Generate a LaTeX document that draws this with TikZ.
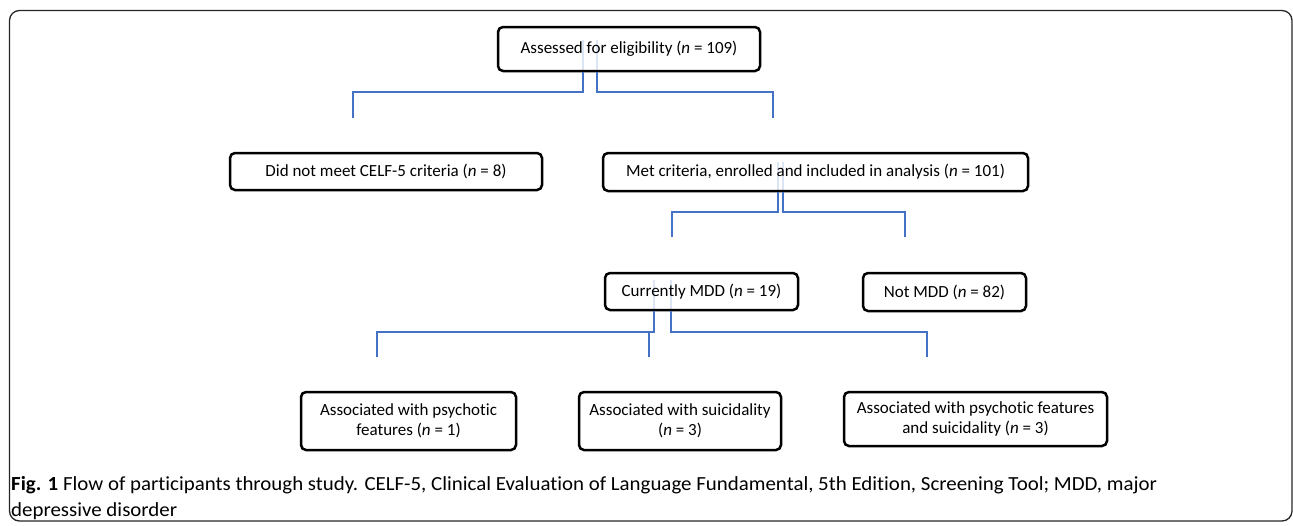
\documentclass[tikz,border=0pt]{standalone}
\usepackage{fontspec}
\setmainfont{Carlito}[RawFeature={-liga}]
\usepackage{graphicx}
\usetikzlibrary{backgrounds}
\definecolor{linkblue}{HTML}{4472C4}
\definecolor{ghostblue}{HTML}{DCE5F4}
\begin{document}
\begin{tikzpicture}[x=1pt,y=-1pt,
  box/.style={draw=black, line width=2.5pt, rounded corners=5pt, align=center, inner sep=0pt,
    font=\fontsize{17}{19.5}\selectfont},
  conn/.style={draw=linkblue, line width=1.6pt},
  ghost/.style={draw=ghostblue, line width=1.6pt},
  frame/.style={draw=black!85, line width=1.3pt, rounded corners=10pt}]
\useasboundingbox (0,0) rectangle (1293,525);
\draw[frame] (9.5,10.5) rectangle (1292,521);

% boxes
\node[box, minimum width=262pt, minimum height=44pt] (assess) at (629,49) {Assessed for eligibility (\textit{n} = 109)};
\node[box, minimum width=312pt, minimum height=37pt] (notmeet) at (386,171.5) {Did not meet CELF-5 criteria (\textit{n} = 8)};
\node[box, minimum width=425pt, minimum height=38pt] (met) at (815.5,172) {Met criteria, enrolled and included in analysis (\textit{n} = 101)};
\node[box, minimum width=193pt, minimum height=37pt] (mdd) at (701.5,291.5) {Currently MDD (\textit{n} = 19)};
\node[box, minimum width=163pt, minimum height=38pt] (notmdd) at (944.5,292) {Not MDD (\textit{n} = 82)};
\node[box, minimum width=215pt, minimum height=58pt] (psy) at (408.5,421) {Associated with psychotic\\features (\textit{n} = 1)};
\node[box, minimum width=202pt, minimum height=58pt] (sui) at (680,421) {Associated with suicidality\\(\textit{n} = 3)};
\node[box, minimum width=263pt, minimum height=54pt] (both) at (975.5,419) {Associated with psychotic features\\and suicidality (\textit{n} = 3)};

% bend points and free ends
\coordinate (a1) at (583,92);   \coordinate (a2) at (597,92);
\coordinate (e1) at (353,118);  \coordinate (e2) at (773,118);
\coordinate (b1) at (778,212);  \coordinate (b2) at (783,212);
\coordinate (f1) at (672,237);  \coordinate (f2) at (905,237);
\coordinate (c1) at (654,332);  \coordinate (c2) at (671,332);
\coordinate (c3) at (649,332);
\coordinate (g1) at (377,357);  \coordinate (g2) at (927,357);
\coordinate (g3) at (649,357);

% faint lines behind boxes
\begin{pgfonlayer}{background}
\draw[ghost] ([yshift=9pt]assess.center -| a1) -- (assess.south -| a1);
\draw[ghost] ([yshift=9pt]assess.center -| a2) -- (assess.south -| a2);
\draw[ghost] ([yshift=10pt]met.center -| b1) -- (met.south -| b1);
\draw[ghost] ([yshift=10pt]met.center -| b2) -- (met.south -| b2);
\draw[ghost] ([yshift=11.5pt]mdd.center -| c1) -- (mdd.south -| c1);
\draw[ghost] ([yshift=11.5pt]mdd.center -| c2) -- (mdd.south -| c2);
\end{pgfonlayer}

% connectors
\draw[conn] (assess.south -| a1) -- (a1) -| (e1);
\draw[conn] (assess.south -| a2) -- (a2) -| (e2);
\draw[conn] (met.south -| b1) -- (b1) -| (f1);
\draw[conn] (met.south -| b2) -- (b2) -| (f2);
\draw[conn] (mdd.south -| c1) -- (c1) -| (g1);
\draw[conn] (mdd.south -| c2) -- (c2) -| (g2);
\draw[conn] (c3) -- (g3);

% caption
\node[anchor=base west, inner sep=0pt] (cap) at (11,490)
  {\fontsize{20}{26}\selectfont
   \resizebox{1146pt}{\height}{\begin{tabular}[t]{@{}l@{}}\textbf{Fig. 1} Flow of participants through study. CELF-5, Clinical Evaluation of Language Fundamental, 5th Edition, Screening Tool; MDD, major\\depressive disorder\end{tabular}}};
\end{tikzpicture}
\end{document}
